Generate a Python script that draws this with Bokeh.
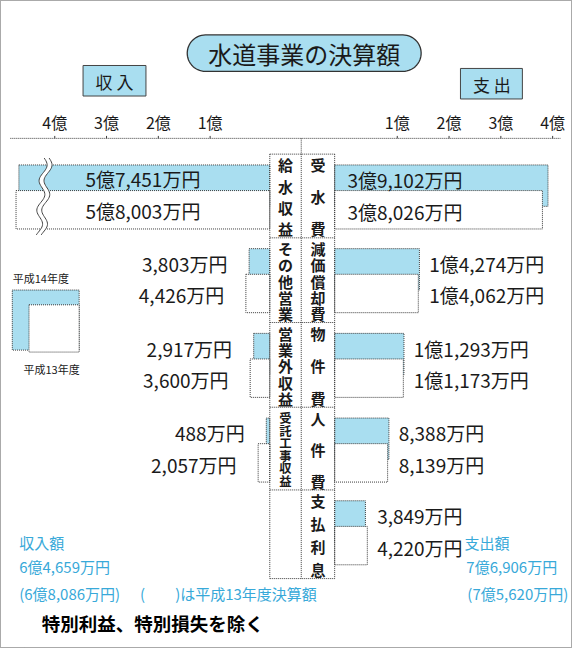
import numpy as np
from bokeh.plotting import figure
from bokeh.models import Range1d, ColumnDataSource
from bokeh.core.properties import value
from bokeh.embed import file_html
from bokeh.resources import INLINE

# ---------------- data (億円) ----------------
title = "水道事業の決算額"
income_title = "収 入"
expense_title = "支 出"
income_items = ["給水収益", "その他営業", "営業外収益", "受託工事収益"]
income_h14 = [5.7451, 0.3803, 0.2917, 0.0488]
income_h13 = [5.8003, 0.4426, 0.3600, 0.2057]
expense_items = ["受水費", "減価償却費", "物件費", "人件費", "支払利息"]
expense_h14 = [3.9102, 1.4274, 1.1293, 0.8388, 0.3849]
expense_h13 = [3.8026, 1.4062, 1.1173, 0.8139, 0.4220]
tick_values = [1, 2, 3, 4]
tick_labels = ["1億", "2億", "3億", "4億"]
legend_labels = ["平成14年度", "平成13年度"]
note_paren = "(　　)は平成13年度決算額"
note_excl = "特別利益、特別損失を除く"


def yen(v):
    man = int(round(v * 10000))
    oku, rest = divmod(man, 10000)
    return f"{oku}億{rest:,}万円" if oku else f"{rest:,}万円"


# ---------------- layout (reference pixels) ----------------
FONT = "Noto Sans CJK JP"
BLUE = "#a9def0"
EDGE = "#3a3a3a"
INK = "#1a1a1a"
CYAN = "#38a9d9"
S = 52.7          # px per 1億
CX = 310.0        # centre of the middle box


def X(px):
    return (px - CX) / S


BOX_L, BOX_M, BOX_R = 277, 309, 343
ROWS = [159, 244, 330, 416, 500, 590]
LEFT_ZERO = X(276)
RIGHT_ZERO = X(354)
LEFT_TICK_ZERO = X(269)
BREAK_LIMIT, BREAK_CUT = 4.5, 0.92
AXIS_Y = 143
VAL_FS = "19px"

p = figure(width=572, height=648, x_range=Range1d(X(3), X(585)), y_range=Range1d(661, 3),
           output_backend="svg", toolbar_location=None, min_border=0,
           x_axis_location=None, y_axis_location=None)
p.grid.visible = False
p.outline_line_color = "#555555"
p.outline_line_dash = "1 1"
p.background_fill_color = "white"


def txt(xs, ys, texts, size, color=INK, align="center", style="normal"):
    p.text(x=[X(v) for v in xs], y=ys, text=texts, text_font=value(FONT),
           text_font_size=f"{size}px", text_align=align, text_baseline="middle",
           text_color=color, text_font_style=style)


def capsule(x0, x1, y0, y1, n=30):
    r = (y1 - y0) / 2
    cy = (y0 + y1) / 2
    a = np.linspace(-np.pi / 2, np.pi / 2, n)
    xr = (x1 - r) + r * np.cos(a)
    yr = cy + r * np.sin(a)
    xl = (x0 + r) - r * np.cos(a[::-1])
    yl = cy + r * np.sin(a[::-1])
    xs = np.concatenate([xr, xl])
    ys = np.concatenate([yr, yl])
    return [X(v) for v in xs], list(ys)


# ---------------- title & headers ----------------
cx, cy = capsule(193, 431, 38, 75)
p.patch(cx, cy, fill_color=BLUE, line_color="#333", line_width=1.3)
txt([312], [57], [title], 24)
p.quad(left=[X(87), X(471)], right=[X(151), X(534)], top=[69, 72], bottom=[100, 103],
       fill_color=BLUE, line_color="#444", line_width=1)
txt([119, 503], [85, 88], [income_title, expense_title], 17)

# ---------------- axis ----------------
p.segment(x0=[X(13)], x1=[X(573)], y0=[AXIS_Y], y1=[AXIS_Y], line_color=EDGE, line_dash="1 1")
ltx = [LEFT_TICK_ZERO - t for t in tick_values]
rtx = [RIGHT_ZERO + t for t in tick_values]
p.segment(x0=ltx + rtx, x1=ltx + rtx, y0=[AXIS_Y - 2.5] * 8, y1=[AXIS_Y] * 8, line_color=EDGE)
p.text(x=ltx + rtx, y=[126] * 8, text=tick_labels + tick_labels, text_font=value(FONT),
       text_font_size="16px", text_align="center", text_baseline="middle", text_color=INK)
p.segment(x0=[X(BOX_M)], x1=[X(BOX_M)], y0=[AXIS_Y], y1=[ROWS[0]], line_color=EDGE, line_dash="1 1")

# ---------------- bars ----------------
def disp(v):
    return v - BREAK_CUT if v > BREAK_LIMIT else v

# income (left)
for vals, top_off, bot_off, fill in [(income_h14, 11, 53, BLUE), (income_h13, 37, 76, "white")]:
    src = ColumnDataSource(dict(
        left=[LEFT_ZERO - disp(v) for v in vals],
        right=[X(BOX_L)] * len(vals),
        top=[ROWS[i] + top_off for i in range(len(vals))],
        bottom=[ROWS[i] + bot_off for i in range(len(vals))]))
    p.quad(left="left", right="right", top="top", bottom="bottom", source=src,
           fill_color=fill, line_color=EDGE, line_dash="1 1", line_width=1)
# expense (right)
for vals, top_off, bot_off, fill in [(expense_h14, 11, 53, BLUE), (expense_h13, 37, 76, "white")]:
    src = ColumnDataSource(dict(
        left=[X(BOX_R)] * len(vals),
        right=[RIGHT_ZERO + v for v in vals],
        top=[ROWS[i] + top_off for i in range(len(vals))],
        bottom=[ROWS[i] + bot_off for i in range(len(vals))]))
    p.quad(left="left", right="right", top="top", bottom="bottom", source=src,
           fill_color=fill, line_color=EDGE, line_dash="1 1", line_width=1)

# break marks on truncated bars
for i, v in enumerate(income_h13):
    if v > BREAK_LIMIT:
        yy = np.linspace(ROWS[i] + 4, ROWS[i] + 82, 60)
        t = (yy - yy[0]) / (yy[-1] - yy[0])
        xc = 50 - 6 * t + 3.5 * np.sin(2 * np.pi * t * 2.6)
        xa = [X(v2 - 2.5) for v2 in xc]
        xb = [X(v2 + 2.5) for v2 in xc]
        p.patch(xa + xb[::-1], list(yy) + list(yy[::-1]), fill_color="white", line_color=None)
        p.line(xa, list(yy), line_color="#444", line_width=1)
        p.line(xb, list(yy), line_color="#444", line_width=1)

# ---------------- value labels ----------------
for i, (a, b) in enumerate(zip(income_h14, income_h13)):
    la, lb = LEFT_ZERO - disp(a), LEFT_ZERO - disp(b)
    if a > BREAK_LIMIT:
        mid = (min(la, lb) + X(BOX_L)) / 2
        p.text(x=[mid, mid], y=[ROWS[i] + 25, ROWS[i] + 57], text=[yen(a), yen(b)],
               text_font=value(FONT), text_font_size=VAL_FS, text_align="center",
               text_baseline="middle", text_color=INK)
    else:
        g = 22 / S
        p.text(x=[la - g, lb - g], y=[ROWS[i] + 26, ROWS[i] + 58], text=[yen(a), yen(b)],
               text_font=value(FONT), text_font_size=VAL_FS, text_align="right",
               text_baseline="middle", text_color=INK)
for i, (a, b) in enumerate(zip(expense_h14, expense_h13)):
    if a > 2:
        xx = X(BOX_R + 13)
    else:
        xx = RIGHT_ZERO + max(a, b) + 10 / S
    p.text(x=[xx, xx], y=[ROWS[i] + 26, ROWS[i] + 58], text=[yen(a), yen(b)],
           text_font=value(FONT), text_font_size=VAL_FS, text_align="left",
           text_baseline="middle", text_color=INK)

# ---------------- centre box ----------------
p.segment(x0=[X(v) for v in (BOX_L, BOX_M, BOX_R)], x1=[X(v) for v in (BOX_L, BOX_M, BOX_R)],
          y0=[ROWS[0]] * 3, y1=[ROWS[-1]] * 3, line_color=EDGE, line_dash="1 1")
p.segment(x0=[X(BOX_L)] * len(ROWS), x1=[X(BOX_R)] * len(ROWS), y0=ROWS, y1=ROWS,
          line_color=EDGE, line_dash="1 1")


def column_text(items, xc):
    for i, name in enumerate(items):
        top, bot = ROWS[i] + 11, ROWS[i + 1] - 9
        n = len(name)
        ys = list(np.linspace(top, bot, n)) if n > 1 else [(top + bot) / 2]
        step = (bot - top) / max(n - 1, 1)
        fs = min(15, step - 0.5)
        txt([xc] * n, ys, list(name), round(fs, 1), style="bold")


column_text(income_items, 293)
column_text(expense_items, 326)

# ---------------- legend ----------------
p.quad(left=[X(15)], right=[X(83)], top=[297], bottom=[358], fill_color=BLUE,
       line_color=EDGE, line_dash="1 1")
p.quad(left=[X(32)], right=[X(83)], top=[312], bottom=[360], fill_color="white",
       line_color=EDGE, line_dash="1 1")
txt([44], [285], [legend_labels[0]], 11)
txt([55], [377], [legend_labels[1]], 11)

# ---------------- totals & notes ----------------
inc14, inc13 = sum(income_h14), sum(income_h13)
exp14, exp13 = sum(expense_h14), sum(expense_h13)
txt([22, 22, 22], [553, 578, 605], ["収入額", yen(inc14), f"({yen(inc13)})"], 15, color=CYAN, align="left")
txt([145], [605], [note_paren], 15, color=CYAN, align="left")
txt([475, 477, 478], [553, 578, 605], ["支出額", yen(exp14), f"({yen(exp13)})"], 15, color=CYAN, align="left")
txt([45], [635], [note_excl], 18.5, color="#000", align="left", style="bold")

open("out.html", "w").write(file_html(p, INLINE))
